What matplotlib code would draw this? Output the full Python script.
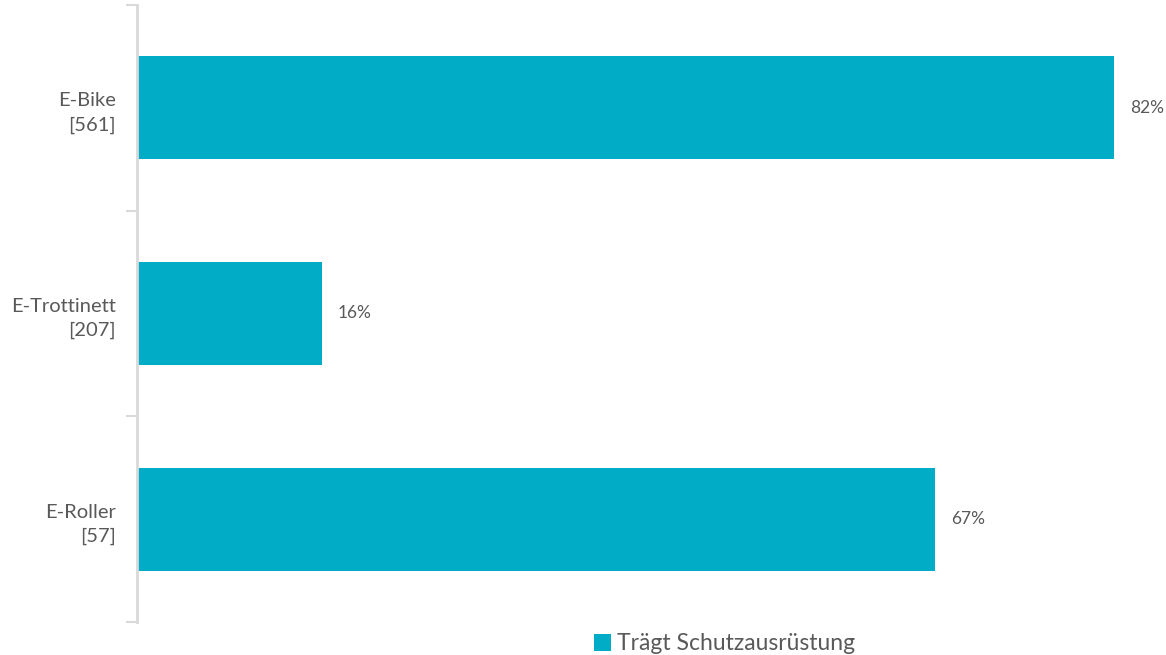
import matplotlib.pyplot as plt
from matplotlib.patches import Patch

categories = ['E-Bike\n[561]', 'E-Trottinett\n[207]', 'E-Roller\n[57]']
values = [82, 15.5, 67]
value_labels = ['82%', '16%', '67%']
series_name = 'Trägt Schutzausrüstung'

bar_color = '#00acc6'
text_color = '#595959'
grid_color = '#d9d9d9'

plt.rcParams['font.family'] = ['Lato', 'DejaVu Sans']

fig = plt.figure(figsize=(11.66, 6.55), dpi=100)
ax = fig.add_axes([137 / 1166, 33 / 655, 1029 / 1166, 617 / 655])

pos = list(range(len(categories)))
ax.barh(pos, values, height=0.5, color=bar_color)
for p, v, lab in zip(pos, values, value_labels):
    ax.text(v + 1.35, p, lab, va='center', ha='left', fontsize=12.5, color=text_color)

ax.set_ylim(2.5, -0.5)
ax.set_xlim(0, 1029 / 11.915)

ax.set_yticks(pos)
ax.set_yticklabels(categories, fontsize=14.5, color=text_color, ha='right', linespacing=1.5)
ax.tick_params(axis='y', which='major', length=0, pad=15)
ax.set_yticks([-0.5, 0.5, 1.5, 2.5], minor=True)
ax.tick_params(axis='y', which='minor', length=8, width=1.5, color=grid_color)
ax.set_xticks([])

for s in ['top', 'right', 'bottom']:
    ax.spines[s].set_visible(False)
ax.spines['left'].set_color(grid_color)
ax.spines['left'].set_linewidth(2)

handles = [Patch(facecolor=bar_color, edgecolor='none', label=series_name)]
fig.legend(handles=handles, loc='center', bbox_to_anchor=(725 / 1166, 1 - 644 / 655),
           frameon=False, fontsize=16.5, labelcolor=text_color,
           handlelength=0.7, handleheight=0.7, handletextpad=0.3)

fig.savefig('out.png', dpi=100)
